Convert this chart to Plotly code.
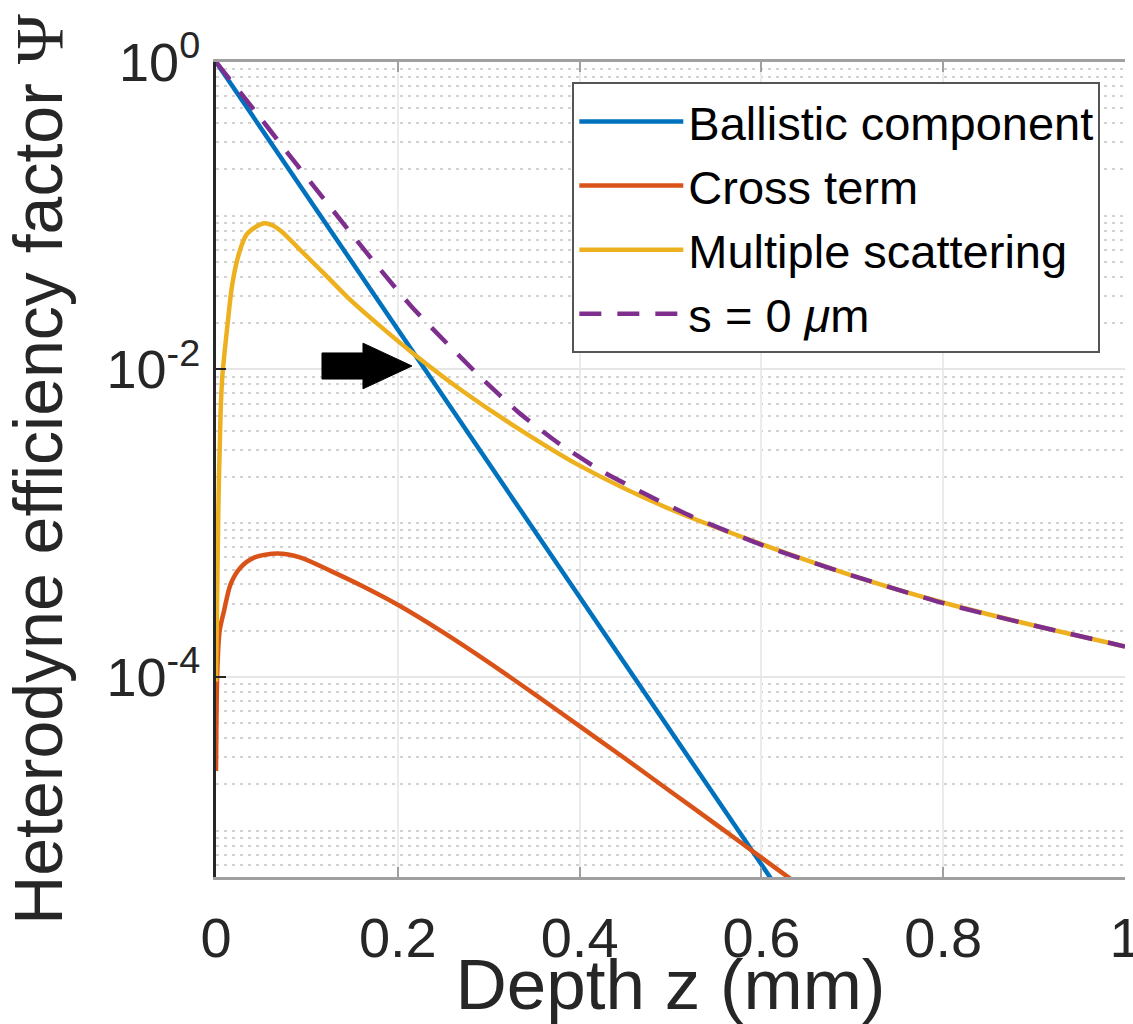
import plotly.graph_objects as go

# Depth z (mm) and heterodyne efficiency factor for each component
depth_ballistic = [0.0, 0.1, 0.2, 0.3, 0.4, 0.5, 0.6, 0.62]
psi_ballistic = [1.0, 0.135, 0.0182, 2.45e-3, 3.31e-4, 4.47e-5, 6.03e-6, 4.04e-6]

depth_cross = [0.0, 0.0015, 0.004, 0.0088, 0.0161, 0.027, 0.0418, 0.0674, 0.0931, 0.126,
               0.163, 0.2, 0.25, 0.3, 0.35, 0.4, 0.45, 0.5, 0.55, 0.6, 0.65]
psi_cross = [2.45e-5, 1.12e-4, 2.0e-4, 2.69e-4, 4.02e-4, 5.15e-4, 5.98e-4, 6.35e-4, 5.98e-4,
             4.9e-4, 3.85e-4, 2.95e-4, 1.95e-4, 1.245e-4, 7.76e-5, 4.79e-5, 2.95e-5, 1.80e-5,
             1.10e-5, 6.68e-6, 4.07e-6]

depth_multiple = [0.0, 0.0025, 0.005, 0.0069, 0.0124, 0.018, 0.0253, 0.0345, 0.053, 0.062,
                  0.0711, 0.0931, 0.119, 0.1445, 0.18, 0.22, 0.27, 0.33, 0.4, 0.496,
                  0.6, 0.7, 0.8, 0.9, 1.0]
psi_multiple = [9.3e-5, 1.15e-3, 5.13e-3, 8.91e-3, 1.89e-2, 3.61e-2, 5.68e-2, 7.66e-2, 8.93e-2,
                8.67e-2, 8.0e-2, 5.96e-2, 4.2e-2, 2.96e-2, 1.93e-2, 1.23e-2, 7.33e-3, 4.22e-3,
                2.37e-3, 1.26e-3, 7.31e-4, 4.57e-4, 3.05e-4, 2.16e-4, 1.58e-4]

depth_s0 = [0.0, 0.043, 0.08, 0.1125, 0.146, 0.18, 0.215, 0.254, 0.292, 0.333, 0.377,
            0.424, 0.474, 0.523, 0.6, 0.7, 0.8, 0.9, 1.0]
psi_s0 = [1.0, 0.479, 0.251, 0.143, 0.0804, 0.0452, 0.0257, 0.0148, 0.00881, 0.00525,
          0.00331, 0.00219, 0.00153, 0.00111, 7.24e-4, 4.57e-4, 3.02e-4, 2.16e-4, 1.58e-4]

x_ticks = [0, 0.2, 0.4, 0.6, 0.8, 1.0]
x_tick_text = ["0", "0.2", "0.4", "0.6", "0.8", "1"]
y_ticks = [1e-4, 1e-2, 1e0]
y_tick_text = ["10<sup>-4</sup>", "10<sup>-2</sup>", "10<sup>0</sup>"]

FONT = "Liberation Sans, Arial, Helvetica, sans-serif"
TEXT = "#262626"
BLUE, RED, YELLOW, PURPLE = "#0072BD", "#D95319", "#EDB120", "#7E2F8E"

fig = go.Figure()
fig.add_trace(go.Scatter(x=depth_ballistic, y=psi_ballistic, mode="lines",
                         name="Ballistic component", line=dict(color=BLUE, width=4.5)))
fig.add_trace(go.Scatter(x=depth_cross, y=psi_cross, mode="lines", name="Cross term",
                         line=dict(color=RED, width=4.5, shape="spline", smoothing=0.8)))
fig.add_trace(go.Scatter(x=depth_multiple, y=psi_multiple, mode="lines",
                         name="Multiple scattering",
                         line=dict(color=YELLOW, width=4.5, shape="spline", smoothing=0.9)))
fig.add_trace(go.Scatter(x=depth_s0, y=psi_s0, mode="lines", name="s = 0 <i>μ</i>m",
                         line=dict(color=PURPLE, width=4.5, dash="22px,16px",
                                   shape="spline", smoothing=0.6)))

# minor log grid: 1..9 times each decade
minor_vals = []
for k in range(-6, 1):
    for d in range(1, 10):
        v = d * 10.0 ** k
        if 5e-6 <= v <= 1.0:
            minor_vals.append(v)

fig.update_layout(
    width=1133, height=1024,
    margin=dict(l=216, r=8, t=62, b=147, autoexpand=False),
    paper_bgcolor="white", plot_bgcolor="white",
    font=dict(family=FONT, color=TEXT, size=56),
    showlegend=True,
    legend=dict(x=0.392, y=0.975, xanchor="left", yanchor="top",
                bgcolor="white", bordercolor="#555555", borderwidth=2,
                font=dict(size=47, color="#000000"), itemwidth=104,
                tracegroupgap=0),
    xaxis=dict(
        range=[0, 1], tickvals=x_ticks, ticktext=x_tick_text, automargin=False,
        showgrid=True, gridcolor="#ebebeb", gridwidth=2,
        showline=True, linecolor="#a0a0a0", linewidth=3, mirror="ticks",
        ticks="inside", ticklen=10, tickcolor="#a0a0a0", tickwidth=2,
        tickfont=dict(size=56, color=TEXT), ticklabelstandoff=10,
        ticklabeloverflow="allow",
        zeroline=False,
        title=dict(text="Depth z (mm)", font=dict(size=71, color=TEXT), standoff=0),
    ),
    yaxis=dict(
        type="log", range=[-5.301, 0], tickvals=y_ticks, ticktext=y_tick_text,
        automargin=False,
        showgrid=True, gridcolor="#e6e6e6", gridwidth=2,
        minor=dict(tickvals=minor_vals, showgrid=True, gridcolor="#d2d2d2",
                   gridwidth=2, griddash="3px,5px", ticks=""),
        showline=True, linecolor="#262626", linewidth=3,
        ticks="inside", ticklen=10, tickcolor="#262626", tickwidth=2,
        tickfont=dict(size=54, color=TEXT), ticklabelstandoff=2,
        ticklabeloverflow="allow",
        zeroline=False,
        title=dict(text='Heterodyne efficiency factor <span style="font-family:Liberation Serif">Ψ</span>',
                   font=dict(size=68, color=TEXT), standoff=32),
    ),
    yaxis2=dict(
        type="log", range=[-5.301, 0], overlaying="y", side="right", automargin=False,
        showgrid=False, showticklabels=False, zeroline=False,
        showline=True, linecolor="#a0a0a0", linewidth=3,
        ticks="inside", ticklen=8, tickcolor="#a0a0a0", tickwidth=2,
        tickvals=y_ticks,
    ),
)

# black arrow pointing at the crossing of ballistic and multiple-scattering curves
ax0, ax1, ax2 = 0.1166, 0.1617, 0.2156   # tail, head base, tip (depth)
ay_c, ay_t, ay_h = 0.627, 0.016, 0.028   # centre (paper), tail half-height, head half-height
arrow_path = (f"M {ax0},{ay_c - ay_t} L {ax1},{ay_c - ay_t} L {ax1},{ay_c - ay_h} "
              f"L {ax2},{ay_c} L {ax1},{ay_c + ay_h} L {ax1},{ay_c + ay_t} "
              f"L {ax0},{ay_c + ay_t} Z")
fig.add_shape(type="path", path=arrow_path, xref="x", yref="paper",
              fillcolor="black", line=dict(color="black", width=1), layer="above")

fig.write_html("out.html")
